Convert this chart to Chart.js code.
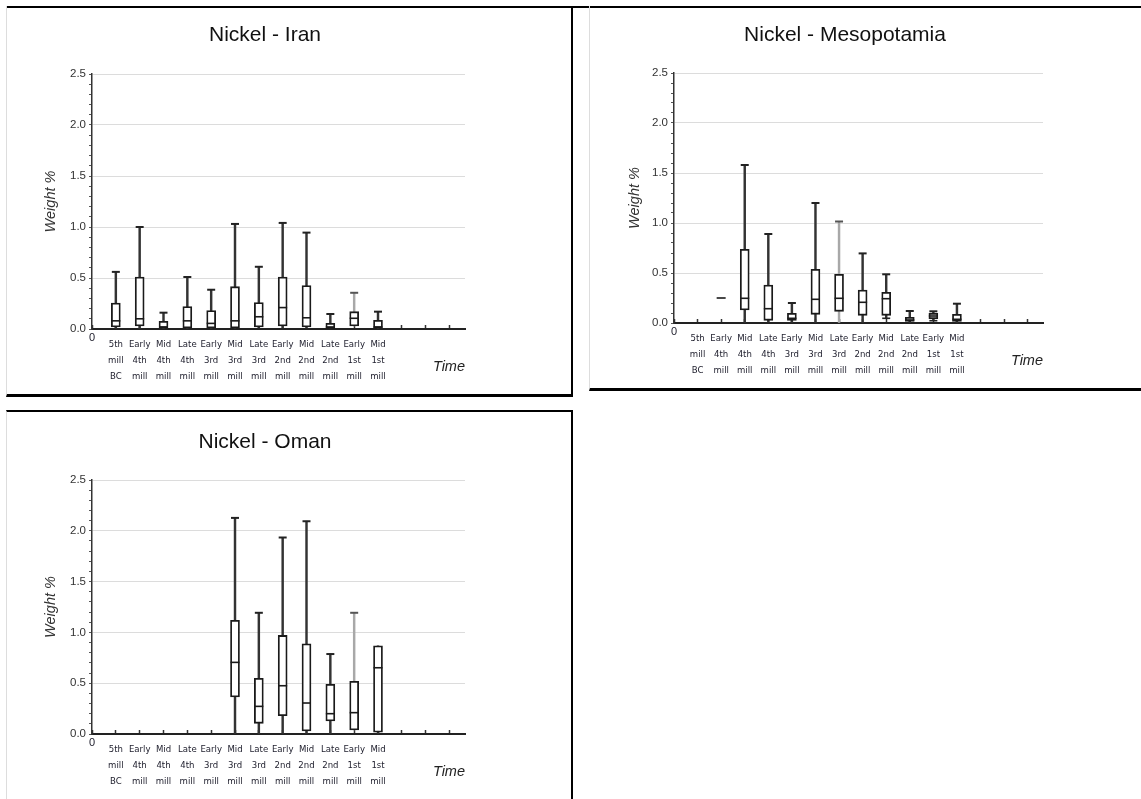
<!DOCTYPE html>
<html>
<head>
<meta charset="utf-8">
<script src="https://cdn.jsdelivr.net/npm/chart.js@4/dist/chart.umd.min.js"></script>
<style>
html,body{margin:0;padding:0;background:#fff;}
body{width:1141px;height:799px;position:relative;overflow:hidden;}
.frame{position:absolute;box-sizing:border-box;}
canvas{position:absolute;}
</style>
</head>
<body>
<div class="frame" style="left:6px;top:6px;width:1135px;height:2px;background:#000;"></div>
<div class="frame" style="left:6px;top:6px;width:567px;height:391px;border-right:2px solid #000;border-bottom:3px solid #000;border-left:1px solid #ddd;"></div>
<div class="frame" style="left:589px;top:6px;width:552px;height:385px;border-bottom:3px solid #000;border-left:1px solid #ddd;"></div>
<div class="frame" style="left:6px;top:410px;width:567px;height:389px;border-top:2px solid #000;border-right:2px solid #000;border-left:1px solid #ddd;"></div>

<canvas id="cIran" width="560" height="385" style="left:8px;top:9px;"></canvas>
<canvas id="cMeso" width="545" height="378" style="left:592px;top:9px;"></canvas>
<canvas id="cOman" width="560" height="385" style="left:8px;top:414px;"></canvas>

<script>
// ---- Data ----
const categories = [
  ["5th","mill","BC"],["Early","4th","mill"],["Mid","4th","mill"],["Late","4th","mill"],
  ["Early","3rd","mill"],["Mid","3rd","mill"],["Late","3rd","mill"],["Early","2nd","mill"],
  ["Mid","2nd","mill"],["Late","2nd","mill"],["Early","1st","mill"],["Mid","1st","mill"]
];
const xTickValues = [0,1,2,3,4,5,6,7,8,9,10,11,12,13,14,15];
const yMajorTicks = [0.0, 0.5, 1.0, 1.5, 2.0, 2.5];

// Iran
const iranMin    = [0.0, 0.0, 0.0, 0.0, 0.0, 0.0, 0.01, 0.01, 0.01, 0.0, 0.03, 0.0];
const iranQ1     = [0.02, 0.03, 0.01, 0.01, 0.01, 0.01, 0.02, 0.03, 0.02, 0.005, 0.03, 0.01];
const iranMedian = [0.08, 0.10, 0.02, 0.08, 0.055, 0.08, 0.12, 0.21, 0.11, 0.02, 0.105, 0.02];
const iranQ3     = [0.255, 0.51, 0.075, 0.22, 0.18, 0.415, 0.26, 0.51, 0.425, 0.055, 0.17, 0.085];
const iranMax    = [0.56, 1.0, 0.16, 0.51, 0.385, 1.03, 0.61, 1.04, 0.945, 0.147, 0.355, 0.17];

// Mesopotamia
const mesoMin    = [null, null, 0.0, 0.01, 0.0, 0.0, 0.0, 0.0, 0.047, 0.0, 0.023, 0.0];
const mesoQ1     = [null, null, 0.13, 0.027, 0.027, 0.087, 0.117, 0.077, 0.077, 0.017, 0.043, 0.017];
const mesoMedian = [null, 0.25, 0.247, 0.143, 0.047, 0.237, 0.247, 0.207, 0.243, 0.03, 0.07, 0.037];
const mesoQ3     = [null, null, 0.736, 0.38, 0.097, 0.536, 0.486, 0.33, 0.307, 0.057, 0.097, 0.087];
const mesoMax    = [null, null, 1.58, 0.89, 0.2, 1.2, 1.015, 0.696, 0.487, 0.12, 0.117, 0.193];

// Oman
const omanMin    = [null, null, null, null, null, 0.0, 0.0, 0.0, 0.0, 0.0, 0.04, 0.0];
const omanQ1     = [null, null, null, null, null, 0.364, 0.105, 0.18, 0.03, 0.128, 0.04, 0.017];
const omanMedian = [null, null, null, null, null, 0.705, 0.272, 0.475, 0.305, 0.2, 0.21, 0.652];
const omanQ3     = [null, null, null, null, null, 1.12, 0.548, 0.97, 0.888, 0.489, 0.518, 0.868];
const omanMax    = [null, null, null, null, null, 2.127, 1.193, 1.934, 2.094, 0.787, 1.193, 0.868];

// ---- Rendering ----
const SANS = "'Liberation Sans', Arial, Helvetica, sans-serif";
const NARROW = "'Liberation Sans Narrow', 'DejaVu Sans Condensed', 'Roboto Condensed', 'Liberation Sans', sans-serif";
const isMajor = v => Math.abs(v * 2 - Math.round(v * 2)) < 1e-6;

function pts(arr, test) {
  const out = [];
  arr.forEach((v, i) => { if (v != null && (!test || test(i))) out.push({x: i + 1, y: v}); });
  return out;
}

function makeChart(id, s) {
  const boxPts = [], whiskPts = [];
  s.q1.forEach((v, i) => {
    if (v != null) boxPts.push({x: i + 1, y: [v, s.q3[i]]});
    if (s.min[i] != null && s.max[i] != null) whiskPts.push({x: i + 1, y: [s.min[i], s.max[i]]});
  });
  const medPts = pts(s.median);
  const maxCaps = pts(s.max, i => s.max[i] > s.q3[i] + 0.005);
  const minCaps = pts(s.min, i => s.min[i] > 0.02 && s.min[i] < s.q1[i]);
  const thin = s.thin;

  return new Chart(document.getElementById(id), {
    type: 'bar',
    data: {
      datasets: [
        {type: 'line', data: medPts, showLine: false, pointStyle: 'line', pointRadius: 4.5,
         pointBorderWidth: 1.6, pointBorderColor: '#1a1a1a', order: 1, xAxisID: 'x', yAxisID: 'y'},
        {type: 'line', data: maxCaps, showLine: false, pointStyle: 'line', pointRadius: 4,
         pointBorderWidth: 2, pointBorderColor: c => (c.raw && thin.includes(c.raw.x)) ? '#555' : '#222',
         order: 1, xAxisID: 'x', yAxisID: 'y'},
        {type: 'line', data: minCaps, showLine: false, pointStyle: 'line', pointRadius: 4,
         pointBorderWidth: 1.6, pointBorderColor: '#222', order: 1, xAxisID: 'x', yAxisID: 'y'},
        {type: 'bar', data: boxPts, backgroundColor: '#ffffff', borderColor: '#1a1a1a', borderWidth: 1.8,
         borderSkipped: false, barThickness: 9, grouped: false, order: 2, xAxisID: 'x', yAxisID: 'y'},
        {type: 'bar', data: whiskPts, backgroundColor: c => (c.raw && thin.includes(c.raw.x)) ? '#a8a8a8' : '#333',
         borderWidth: 0, barThickness: 1.8, grouped: false, order: 3, xAxisID: 'x', yAxisID: 'y'}
      ]
    },
    options: {
      responsive: false,
      animation: false,
      devicePixelRatio: 1,
      events: [],
      layout: {padding: {left: 0, right: s.padRight, top: 0, bottom: 0}},
      plugins: {
        legend: {display: false},
        tooltip: {enabled: false},
        title: {display: true, text: s.title, color: '#111',
                font: {family: SANS, size: 21, weight: 'normal', lineHeight: '24px'},
                padding: {top: s.titleTop, bottom: s.titleBottom}}
      },
      scales: {
        x: {
          type: 'linear', position: 'bottom', min: 0, max: 15.65, offset: false,
          afterBuildTicks: sc => { sc.ticks = xTickValues.map(v => ({value: v})); },
          ticks: {
            autoSkip: false, maxRotation: 0, minRotation: 0, padding: 12, color: '#222230',
            callback: v => v === 0 ? '0' : (categories[v - 1] || ''),
            font: c => (c.tick && c.tick.value === 0)
              ? {family: SANS, size: 11, lineHeight: 0.2}
              : {family: NARROW, size: 9.5, lineHeight: '16px'}
          },
          grid: {display: true, drawOnChartArea: false, offset: false, tickLength: -4, tickColor: '#333', tickWidth: 1.5},
          border: {display: true, color: '#222', width: 2},
          title: {display: true, text: 'Time', align: 'end', color: '#222',
                  font: {family: SANS, size: 14.5, style: 'italic'},
                  padding: {top: 0, bottom: s.timePad}},
          afterFit: sc => { sc.height = s.xHeight; }
        },
        y: {
          type: 'linear', position: 'left', min: 0, max: 2.5,
          ticks: {
            stepSize: 0.1, autoSkip: false, padding: 3, color: '#333',
            font: {family: SANS, size: 11.5},
            callback: v => yMajorTicks.some(t => Math.abs(t - v) < 1e-6) ? v.toFixed(1) : ''
          },
          grid: {
            color: c => (c.tick && isMajor(c.tick.value)) ? '#dcdcdc' : 'rgba(0,0,0,0)',
            tickColor: '#555', tickLength: 3, lineWidth: 1
          },
          border: {display: true, color: '#333', width: 1.5},
          title: {display: true, text: 'Weight %', color: '#333',
                  font: {family: SANS, size: 14.5, style: 'italic'},
                  padding: {top: s.wPad, bottom: 0}},
          afterFit: sc => { sc.width = s.yWidth; }
        },
        yR: {
          type: 'linear', position: 'right', display: true,
          grid: {display: false, drawTicks: false}, border: {display: false}, ticks: {display: false},
          afterFit: sc => { sc.width = s.rightWidth; }
        }
      }
    }
  });
}

makeChart('cIran', {
  title: 'Nickel - Iran', min: iranMin, q1: iranQ1, median: iranMedian, q3: iranQ3, max: iranMax,
  thin: [11], padRight: 46, rightWidth: 57, titleTop: 14, titleBottom: 27,
  xHeight: 65, yWidth: 84, wPad: 34, timePad: 18.6
});
makeChart('cMeso', {
  title: 'Nickel - Mesopotamia', min: mesoMin, q1: mesoQ1, median: mesoMedian, q3: mesoQ3, max: mesoMax,
  thin: [7], padRight: 39, rightWidth: 55, titleTop: 14, titleBottom: 26,
  xHeight: 64, yWidth: 82, wPad: 34.6, timePad: 17.6
});
makeChart('cOman', {
  title: 'Nickel - Oman', min: omanMin, q1: omanQ1, median: omanMedian, q3: omanQ3, max: omanMax,
  thin: [11], padRight: 46, rightWidth: 57, titleTop: 16, titleBottom: 26,
  xHeight: 65, yWidth: 84, wPad: 34, timePad: 18.6
});
</script>
</body>
</html>
